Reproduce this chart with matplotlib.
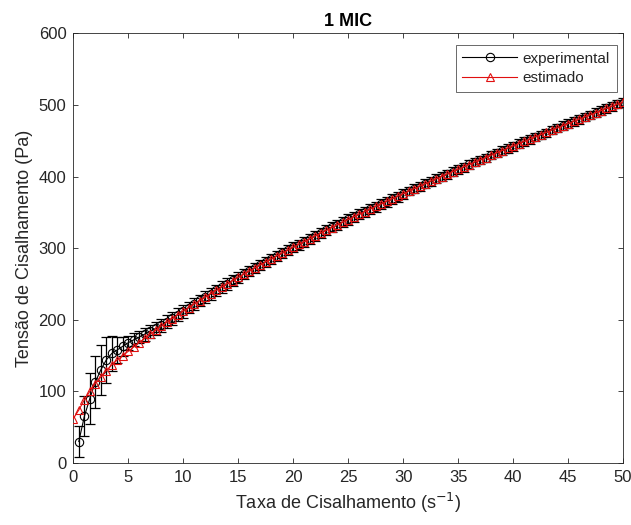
import numpy as np
import matplotlib
matplotlib.use('Agg')
import matplotlib.pyplot as plt

plt.rcParams['font.family'] = ['Liberation Sans', 'DejaVu Sans']

#############################################
# Data
#############################################
# shear rate grid (s^-1), experimental points every 0.5
x_exp = np.arange(0.5, 50.01, 0.5)
# estimated curve also has a point at 0
x_est = np.arange(0.0, 50.01, 0.5)

tau_est = [62, 74, 88, 100, 111, 120, 129, 137, 144, 150, 156,
           162.1, 168.2, 174.1, 179.9, 185.5, 191.0, 196.4, 201.7, 206.9, 212.0,
           217.0, 222.0, 226.8, 231.6, 236.4, 241.0, 245.6, 250.2, 254.7, 259.2,
           263.5, 267.9, 272.2, 276.5, 280.7, 284.8, 289.0, 293.1, 297.1, 301.2,
           305.2, 309.1, 313.1, 317.0, 320.9, 324.7, 328.6, 332.4, 336.1, 339.9,
           343.6, 347.3, 350.9, 354.6, 358.2, 361.8, 365.4, 368.9, 372.5, 376.0,
           379.5, 383.0, 386.4, 389.8, 393.3, 396.7, 400.0, 403.4, 406.8, 410.1,
           413.4, 416.7, 420.0, 423.3, 426.5, 429.8, 433.0, 436.3, 439.4, 442.6,
           445.8, 449.0, 452.1, 455.3, 458.4, 461.5, 464.7, 467.7, 470.8, 473.9,
           476.9, 480.0, 483.0, 486.0, 489.0, 492.0, 495.0, 498.0, 501.0, 504.0]

tau_exp = [30, 65, 90, 113, 130, 144, 153, 158, 163, 168,
           172, 176, 180, 184, 188, 192, 197, 202, 207, 212,
           217, 222, 227, 232, 236, 241, 246, 250, 255, 259,
           264, 268, 272, 277, 281, 285, 289, 293, 297, 301,
           305, 309, 313, 317, 321, 325, 329, 332, 336, 340,
           344, 347, 351, 355, 358, 362, 365, 369, 372, 376,
           380, 383, 386, 390, 393, 397, 400, 403, 407, 410,
           413, 417, 420, 423, 426, 430, 433, 436, 439, 442,
           446, 449, 452, 455, 458, 461, 465, 468, 471, 474,
           477, 480, 483, 486, 489, 492, 495, 498, 501, 503]

err_exp = [21, 28, 35, 36, 35, 32, 24, 18, 13, 10,
           9, 9, 9, 9, 9, 9, 9, 9, 9, 9,
           8, 8, 8, 8, 8, 8, 8, 8, 8, 8,
           7, 7, 7, 7, 7, 7, 7, 7, 7, 7,
           7, 7, 7, 7, 7, 7, 7, 7, 7, 7,
           7, 7, 7, 7, 7, 7, 7, 7, 7, 7,
           6, 6, 6, 6, 6, 6, 6, 6, 6, 6,
           6, 6, 6, 6, 6, 6, 6, 6, 6, 6,
           6, 6, 6, 6, 6, 6, 6, 6, 6, 6,
           6, 6, 6, 6, 6, 6, 6, 6, 6, 6]

x_ticks = [0, 5, 10, 15, 20, 25, 30, 35, 40, 45, 50]
y_ticks = [0, 100, 200, 300, 400, 500, 600]

##############################################
# Plotting
##############################################
axis_grey = '#262626'

fig = plt.figure(figsize=(6.31, 5.25), dpi=100)
ax = fig.add_axes([0.1162, 0.1181, 0.8711, 0.8185])

# error bars and experimental line
ax.errorbar(x_exp, tau_exp, yerr=err_exp, fmt='none', ecolor='black',
            elinewidth=0.9, capsize=3.5, capthick=0.9, zorder=2)
ax.plot(x_exp, tau_exp, '-o', color='black', mfc='none', markersize=6,
        linewidth=0.8, markeredgewidth=0.8, label='experimental', zorder=3)
# estimated curve
ax.plot(x_est, tau_est, '-^', color='#e01010', mfc='none', markersize=6,
        linewidth=0.8, markeredgewidth=0.8, label='estimado', zorder=4)

ax.set_xlim(0, 50)
ax.set_ylim(0, 600)
ax.set_xticks(x_ticks)
ax.set_yticks(y_ticks)
ax.tick_params(direction='in', length=3.5, width=0.6, top=True, right=True,
               labelsize=12, colors=axis_grey, pad=5)
for spine in ax.spines.values():
    spine.set_color(axis_grey)
    spine.set_linewidth(0.6)

ax.set_xlabel('Taxa de Cisalhamento (s$^{-1}$)', fontsize=13, color=axis_grey)
ax.set_ylabel('Tensão de Cisalhamento (Pa)', fontsize=13, color=axis_grey)
ax.set_title('1 MIC', fontsize=13, fontweight='bold', color='black', pad=5)

leg = ax.legend(loc='upper right', bbox_to_anchor=(0.989, 0.973), fontsize=11,
                frameon=True, fancybox=False, edgecolor=axis_grey,
                handlelength=3.6, handletextpad=0.35, borderpad=0.45,
                labelspacing=0.35, borderaxespad=0)
leg.get_frame().set_linewidth(0.6)
for t in leg.get_texts():
    t.set_color(axis_grey)

plt.savefig('out.png', dpi=100)
